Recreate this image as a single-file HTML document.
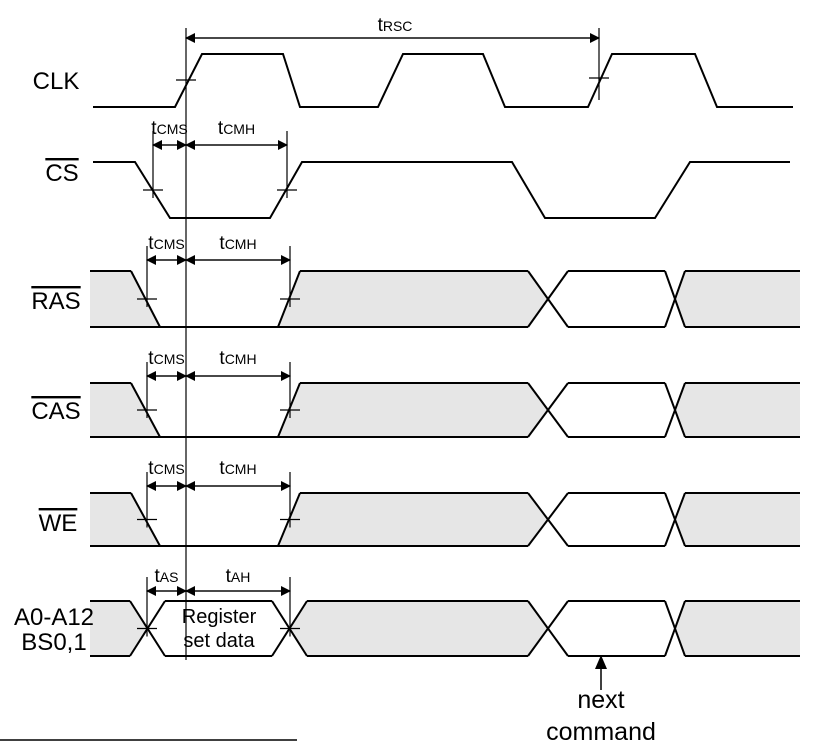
<!DOCTYPE html>
<html><head><meta charset="utf-8"><style>
html,body{margin:0;padding:0;background:#fff}
svg{display:block}
text{font-family:"Liberation Sans",Arial,sans-serif;fill:#000}
.s{font-size:24px}
.n{font-size:25px}
.r{font-size:20px}
.t{font-size:19px}
.ts{font-size:14px}
</style></head><body>
<svg width="823" height="742" viewBox="0 0 823 742" xmlns="http://www.w3.org/2000/svg">
<defs>
<marker id="a" markerWidth="10" markerHeight="10" refX="9" refY="5" orient="auto" markerUnits="userSpaceOnUse"><path d="M0,0 L10,5 L0,10z" fill="#000"/></marker>
</defs>
<g stroke="#000" stroke-width="2" fill="none">
<polyline points="93,107 175,107 202,54 283,54 300,107 378,107 403,54 483,54 505,107 588,107 612,54 695,54 717,107 793,107"/>
<polyline points="93,162 135,162 170,218 270,218 302,162 512,162 545,218 655,218 690,162 790,162"/>
</g>
<g stroke="#000" stroke-width="1.2">
<line x1="186" y1="28" x2="186" y2="660"/>
<line x1="599" y1="28" x2="599" y2="100"/>
<line x1="176" y1="80" x2="196" y2="80"/><line x1="589" y1="78" x2="609" y2="78"/>
<line x1="186" y1="38" x2="599" y2="38" marker-end="url(#a)"/>
<line x1="599" y1="38" x2="186" y2="38" marker-end="url(#a)"/>
</g>
<text x="395" y="31" class="t" text-anchor="middle">t<tspan class="ts">RSC</tspan></text>

<g id="rows"></g>

<g stroke="#000" stroke-width="1.5">
<line x1="601" y1="690" x2="601" y2="660"/>
<line x1="0" y1="740" x2="297" y2="740"/>
</g>
<path d="M601,655 L595,669 L607,669z" fill="#000"/>
<text x="601" y="708" class="n" text-anchor="middle">next</text>
<text x="601" y="740" class="n" text-anchor="middle">command</text>

<text x="56" y="89" class="s" text-anchor="middle">CLK</text>
<text x="62" y="181" class="s" text-anchor="middle" text-decoration="overline">CS</text>
<text x="56" y="309" class="s" text-anchor="middle" text-decoration="overline">RAS</text>
<text x="56" y="419" class="s" text-anchor="middle" text-decoration="overline">CAS</text>
<text x="58" y="531" class="s" text-anchor="middle" text-decoration="overline">WE</text>
<text x="54" y="625" class="s" text-anchor="middle">A0-A12</text>
<text x="54" y="650" class="s" text-anchor="middle">BS0,1</text>
<text x="219" y="623" class="r" text-anchor="middle">Register</text>
<text x="219" y="647" class="r" text-anchor="middle">set data</text>
</svg>
<script>
var g=document.getElementById('rows'),h='';
function L(x1,y1,x2,y2,w){h+='<line x1="'+x1+'" y1="'+y1+'" x2="'+x2+'" y2="'+y2+'" stroke="#000" stroke-width="'+(w||2)+'"/>';}
function P(pts){h+='<polygon points="'+pts+'" fill="#e6e6e6"/>';}
function T(x,y,m,s){h+='<text x="'+x+'" y="'+y+'" class="t" text-anchor="middle">t<tspan class="ts">'+s+'</tspan></text>';}
function marks(a,b,ay,ty,ly,n1,n2){
  L(a,ay-14,a,ty+8,1.2);L(b,ay-14,b,ty+8,1.2);
  L(a-10,ty,a+10,ty,1.2);L(b-10,ty,b+10,ty,1.2);
  h+='<line x1="'+a+'" y1="'+ay+'" x2="186" y2="'+ay+'" stroke="#000" stroke-width="1.2" marker-end="url(#a)"/>';
  h+='<line x1="186" y1="'+ay+'" x2="'+a+'" y2="'+ay+'" stroke="#000" stroke-width="1.2" marker-end="url(#a)"/>';
  h+='<line x1="186" y1="'+ay+'" x2="'+b+'" y2="'+ay+'" stroke="#000" stroke-width="1.2" marker-end="url(#a)"/>';
  h+='<line x1="'+b+'" y1="'+ay+'" x2="186" y2="'+ay+'" stroke="#000" stroke-width="1.2" marker-end="url(#a)"/>';
  T((a+186)/2,ly,0,n1);T((186+b)/2,ly,0,n2);
}
marks(153,287,145,190,134,'CMS','CMH');
function tail(t,b){var m=(t+b)/2;
  P('300,'+t+' 528,'+t+' 548,'+m+' 528,'+b+' 278,'+b);
  P('685,'+t+' 800,'+t+' 800,'+b+' 685,'+b+' 675,'+m);
  L(300,t,528,t);L(528,t,568,b);L(528,b,568,t);L(568,t,665,t);L(568,b,665,b);
  L(665,t,685,b);L(665,b,685,t);L(685,t,800,t);L(685,b,800,b);
}
function row(t,b,ay,ly){
  P('90,'+t+' 131,'+t+' 160,'+b+' 90,'+b);
  tail(t,b);
  L(90,t,131,t);L(131,t,160,b);L(90,b,528,b);L(278,b,300,t);
  marks(147,290,ay,(t+b)/2,ly,'CMS','CMH');
}
row(271,327,260,249);
row(383,437,376,364);
row(493,546,486,474);
var t=601,b=656,m=628.5;
P('90,'+t+' 130,'+t+' 147,'+m+' 130,'+b+' 90,'+b);
P('307,'+t+' 528,'+t+' 548,'+m+' 528,'+b+' 307,'+b+' 290,'+m);
P('685,'+t+' 800,'+t+' 800,'+b+' 685,'+b+' 675,'+m);
L(90,t,130,t);L(90,b,130,b);L(130,t,165,b);L(130,b,165,t);
L(165,t,272,t);L(165,b,272,b);L(272,t,307,b);L(272,b,307,t);
L(307,t,528,t);L(307,b,528,b);L(528,t,568,b);L(528,b,568,t);L(568,t,665,t);L(568,b,665,b);
L(665,t,685,b);L(665,b,685,t);L(685,t,800,t);L(685,b,800,b);
marks(147,290,591,m,582,'AS','AH');
g.innerHTML=h;
</script>
</body></html>
